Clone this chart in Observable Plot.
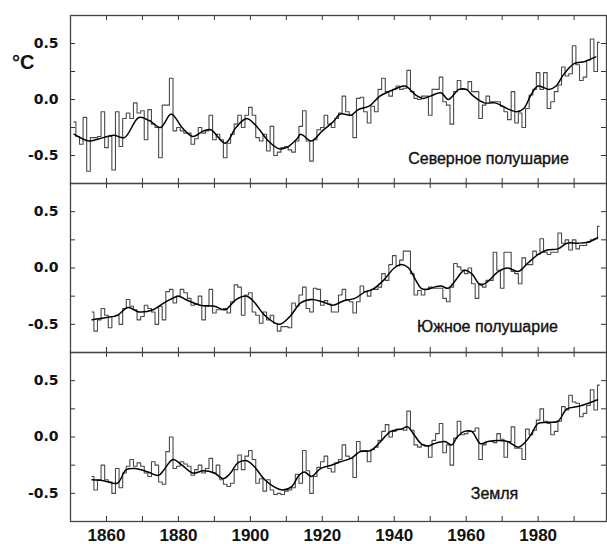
<!DOCTYPE html>
<html><head><meta charset="utf-8">
<script src="https://cdn.jsdelivr.net/npm/d3@7"></script>
<script src="https://cdn.jsdelivr.net/npm/@observablehq/plot@0.6"></script>
<style>
html,body{margin:0;padding:0;background:#fff;}
#chart{position:relative;width:607px;height:544px;overflow:hidden;}
#chart svg{position:absolute;left:0;}
#unit{position:absolute;left:12px;top:51px;line-height:1;font:bold 20px "Liberation Sans",Arial,sans-serif;color:#111;}
</style></head><body><div id="chart"><div id="unit">°C</div></div>
<script>
// ---- axis ticks / labels ----
const xTicks = [1860, 1870, 1880, 1890, 1900, 1910, 1920, 1930, 1940, 1950, 1960, 1970, 1980, 1990];
const xLabels = [1860, 1880, 1900, 1920, 1940, 1960, 1980];
const yTicks = [-0.5, -0.25, 0, 0.25, 0.5];
const yLabels = [-0.5, 0, 0.5];

// ---- panel names ----
const panelNames = ["Северное полушарие", "Южное полушарие", "Земля"];

// ---- Northern hemisphere annual anomalies, 1851–1997 ----
const nhStart = 1851;
const nhAnnual = [
  -0.20, -0.33, -0.40, -0.16, -0.64, -0.34, -0.34, -0.33, -0.11, -0.43,
  -0.33, -0.63, -0.11, -0.42, -0.17, -0.12, -0.17, -0.03, -0.12, -0.10,
  -0.36, -0.09, -0.22, -0.25, -0.52, -0.05, -0.05, 0.19, -0.28, -0.25,
  -0.28, -0.30, -0.30, -0.40, -0.35, -0.25, -0.30, -0.28, -0.14, -0.36,
  -0.31, -0.36, -0.52, -0.39, -0.31, -0.22, -0.14, -0.25, -0.14, -0.07,
  -0.14, -0.34, -0.37, -0.31, -0.46, -0.24, -0.50, -0.47, -0.43, -0.42,
  -0.45, -0.47, -0.37, -0.24, -0.10, -0.37, -0.55, -0.36, -0.27, -0.25,
  -0.14, -0.22, -0.25, -0.17, -0.12, 0.03, -0.11, -0.14, -0.34, 0.01,
  0.02, -0.11, -0.21, -0.06, -0.11, 0.09, 0.19, 0.07, 0.03, 0.09,
  0.12, 0.09, 0.10, 0.26, 0.07, 0.01, 0.00, 0.03, 0.03, -0.14,
  0.09, 0.09, 0.20, -0.02, -0.05, -0.22, 0.07, 0.17, 0.09, 0.09,
  0.16, 0.07, 0.07, -0.17, -0.05, 0.03, -0.02, -0.02, -0.02, -0.06,
  -0.11, -0.18, 0.07, -0.21, -0.12, -0.25, -0.08, 0.04, 0.09, 0.24,
  0.09, 0.24, -0.08, -0.02, 0.07, 0.13, 0.29, 0.21, 0.23, 0.48,
  0.31, 0.17, 0.20, 0.35, 0.54, 0.25, 0.51
];
const nhSmoothYears = [1851, 1855, 1858, 1862, 1865, 1869, 1872, 1875, 1878, 1881, 1884, 1887, 1889, 1893, 1896, 1899, 1902, 1905, 1908, 1910, 1913, 1914, 1917, 1920, 1923, 1925, 1928, 1930, 1933, 1936, 1940, 1943, 1946, 1948, 1950, 1953, 1955, 1958, 1960, 1962, 1965, 1968, 1972, 1974, 1976, 1978, 1980, 1983, 1985, 1987, 1990, 1993, 1996];
const nhSmooth = [-0.31, -0.37, -0.35, -0.32, -0.34, -0.16, -0.19, -0.25, -0.13, -0.25, -0.33, -0.28, -0.27, -0.39, -0.25, -0.17, -0.25, -0.37, -0.44, -0.43, -0.35, -0.31, -0.37, -0.28, -0.20, -0.13, -0.14, -0.09, -0.06, 0.03, 0.09, 0.12, 0.04, 0.01, 0.03, 0.06, 0.00, 0.09, 0.09, 0.03, -0.03, -0.03, -0.09, -0.11, -0.08, 0.04, 0.12, 0.09, 0.12, 0.22, 0.32, 0.34, 0.38];

// ---- Southern hemisphere annual anomalies, 1856–1997 ----
const shStart = 1856;
const shAnnual = [
  -0.39, -0.56, -0.46, -0.36, -0.42, -0.53, -0.43, -0.42, -0.50, -0.36,
  -0.28, -0.34, -0.37, -0.46, -0.43, -0.33, -0.36, -0.39, -0.50, -0.34,
  -0.46, -0.21, -0.19, -0.31, -0.25, -0.19, -0.22, -0.27, -0.33, -0.32,
  -0.25, -0.46, -0.34, -0.19, -0.40, -0.37, -0.37, -0.36, -0.40, -0.30,
  -0.15, -0.17, -0.42, -0.24, -0.22, -0.39, -0.42, -0.49, -0.39, -0.46,
  -0.42, -0.49, -0.56, -0.52, -0.52, -0.53, -0.31, -0.34,
  -0.24, -0.17, -0.36, -0.39, -0.18, -0.19, -0.33, -0.29, -0.32, -0.39,
  -0.39, -0.24, -0.19, -0.28, -0.30, -0.40, -0.30, -0.16, -0.21, -0.25,
  -0.19, -0.19, -0.17, -0.05, -0.11, 0.03, 0.11, 0.02, 0.07, 0.15,
  0.15, -0.05, -0.24, -0.20, -0.24, -0.19, -0.17, -0.18, -0.18, -0.18,
  -0.27, -0.30, -0.17,
  0.04, 0.01, -0.02, -0.05, 0.00, -0.14, -0.27, -0.14, -0.17, -0.11,
  -0.11, 0.14, -0.02, -0.18, 0.14, 0.14, -0.03, -0.05, -0.14, 0.09,
  0.03, 0.03, 0.15, 0.12, 0.26, 0.14, 0.12, 0.14, 0.14, 0.31,
  0.22, 0.25, 0.16, 0.25, 0.17, 0.20, 0.20, 0.23, 0.25, 0.26,
  0.37
];
const shSmoothYears = [1856, 1860, 1863, 1866, 1869, 1873, 1876, 1880, 1882, 1886, 1890, 1893, 1896, 1899, 1901, 1904, 1908, 1911, 1914, 1917, 1920, 1923, 1926, 1929, 1932, 1934, 1937, 1940, 1942, 1944, 1946, 1947.5, 1949, 1951, 1953, 1955, 1957, 1959.5, 1961.5, 1964, 1966, 1969, 1971.5, 1974.5, 1977, 1980, 1982.5, 1985.5, 1988, 1991, 1994, 1996.5];
const shSmooth = [-0.46, -0.44, -0.42, -0.35, -0.39, -0.37, -0.31, -0.25, -0.28, -0.33, -0.34, -0.37, -0.28, -0.25, -0.30, -0.42, -0.50, -0.43, -0.31, -0.28, -0.30, -0.33, -0.29, -0.27, -0.21, -0.19, -0.11, 0.00, 0.03, 0.00, -0.11, -0.18, -0.19, -0.17, -0.16, -0.18, -0.11, -0.02, -0.05, -0.15, -0.12, -0.03, 0.00, -0.03, 0.04, 0.12, 0.16, 0.17, 0.22, 0.22, 0.23, 0.27];

// ---- Global annual anomalies, 1856–1997 ----
const glStart = 1856;
const glAnnual = [
  -0.35, -0.47, -0.38, -0.25, -0.38, -0.40, -0.50, -0.28, -0.45, -0.32,
  -0.26, -0.20, -0.26, -0.23, -0.26, -0.32, -0.35, -0.22, -0.25, -0.40,
  -0.42, -0.13, 0.00, -0.28, -0.26, -0.22, -0.24, -0.26, -0.34, -0.29,
  -0.25, -0.32, -0.28, -0.19, -0.32, -0.25, -0.38, -0.42, -0.44, -0.41,
  -0.29, -0.16, -0.29, -0.17, -0.12, -0.20, -0.41, -0.37, -0.48, -0.38,
  -0.47, -0.51, -0.50, -0.51, -0.48, -0.47, -0.45, -0.33,
  -0.41, -0.12, -0.30, -0.50, -0.35, -0.27, -0.22, -0.17, -0.28, -0.31,
  -0.23, -0.20, -0.07, -0.17, -0.19, -0.36, -0.04, -0.12, -0.12, -0.22,
  -0.11, -0.09, -0.03, 0.05, 0.11, 0.00, 0.05, 0.07, 0.07, 0.06,
  0.23, 0.06, -0.07, -0.09, -0.07, -0.08, -0.18, -0.03, 0.03, 0.12,
  -0.14, -0.07, -0.25, -0.01, 0.14, 0.02, 0.03, 0.05, 0.05, 0.08,
  -0.20, -0.07, -0.04, -0.04, -0.05, 0.03, -0.02, -0.18, -0.04, 0.09,
  -0.10, -0.10, -0.20, 0.07, 0.02, 0.06, 0.15, 0.25, 0.14, 0.12,
  0.02, 0.05, 0.14, 0.27, 0.24, 0.37, 0.31, 0.30, 0.18, 0.21,
  0.28, 0.42, 0.24, 0.46
];
const glSmoothYears = [1856, 1859.5, 1863, 1865.5, 1868, 1871.5, 1874.5, 1876, 1878.5, 1881, 1884, 1887, 1890, 1892.5, 1894.5, 1896.5, 1899, 1901, 1904, 1906.5, 1909, 1911.5, 1913.5, 1915, 1917, 1919.5, 1922.5, 1925, 1928, 1930.5, 1933.5, 1936.5, 1939, 1942, 1943.7, 1945.5, 1947.5, 1949.5, 1951, 1954, 1956, 1957.5, 1959.5, 1961.5, 1964, 1966, 1969, 1971.5, 1974.5, 1976, 1978, 1980, 1982.5, 1985.5, 1988, 1991, 1994, 1996.5];
const glSmooth = [-0.38, -0.39, -0.41, -0.29, -0.28, -0.31, -0.34, -0.29, -0.20, -0.25, -0.32, -0.30, -0.32, -0.37, -0.32, -0.23, -0.21, -0.26, -0.38, -0.44, -0.47, -0.44, -0.34, -0.31, -0.35, -0.28, -0.25, -0.22, -0.19, -0.13, -0.12, -0.03, 0.05, 0.07, 0.09, 0.02, -0.06, -0.08, -0.06, -0.04, -0.07, 0.00, 0.05, 0.05, -0.06, -0.04, -0.03, -0.04, -0.09, -0.06, 0.02, 0.12, 0.13, 0.14, 0.25, 0.27, 0.30, 0.33];

// ---- layout ----
const W = 607, ML = 70, MR = 1;
const plotW = W - ML - MR;
const chart = document.getElementById("chart");

function panel({name, start, annual, smoothYears, smooth, top, innerH, mb, showX, dx, dy}) {
  const annualData = annual.map((v, i) => ({year: start + i, value: v}));
  const smoothData = smoothYears.map((y, i) => ({year: y, value: smooth[i]}));
  const mt = 5;
  const marks = [
    Plot.tickY(yTicks, {y: d => d, insetRight: plotW - 5, stroke: "#333"}),
    Plot.tickY(yTicks, {y: d => d, insetLeft: plotW - 5, stroke: "#333"}),
    Plot.tickX(xTicks, {x: d => d, insetTop: innerH - 5, stroke: "#333"}),
    Plot.tickX(xTicks, {x: d => d, insetBottom: innerH - 5, stroke: "#333"}),
    Plot.axisY({ticks: yLabels, tickSize: 0, tickPadding: 12, tickFormat: d => d.toFixed(1),
      fontSize: 14, fontWeight: "bold", fontFamily: "DejaVu Sans", fill: "#111", label: null}),
    Plot.lineY(annualData, {x: "year", y: "value", curve: "step", stroke: "#4a4a4a", strokeWidth: 1.1}),
    Plot.lineY(smoothData, {x: "year", y: "value", curve: "catmull-rom", stroke: "#000", strokeWidth: 1.5}),
    Plot.text([name], {frameAnchor: "bottom", dx, dy, text: d => d, fontSize: 16,
      fontFamily: "Liberation Sans", fill: "#111", stroke: "#111", strokeWidth: 0.35,
      textAnchor: "middle", lineAnchor: "middle"}),
    Plot.frame({stroke: "#444", strokeWidth: 1.3})
  ];
  if (showX) marks.push(Plot.axisX({ticks: xLabels, tickSize: 0, tickPadding: 7, tickFormat: d => String(d),
    fontSize: 17, fontWeight: "bold", fontFamily: "Liberation Sans", fill: "#111", label: null}));
  const svg = Plot.plot({
    width: W, height: mt + innerH + mb,
    marginLeft: ML, marginRight: MR, marginTop: mt, marginBottom: mb,
    x: {domain: [1850, 1999], axis: showX ? undefined : null},
    y: {domain: [-0.75, 0.75]},
    style: {background: "transparent", overflow: "visible"},
    marks
  });
  svg.style.top = (top - mt) + "px";
  chart.appendChild(svg);
}

panel({name: panelNames[0], start: nhStart, annual: nhAnnual, smoothYears: nhSmoothYears, smooth: nhSmooth,
  top: 15, innerH: 168, mb: 5, showX: false, dx: 150, dy: -25});
panel({name: panelNames[1], start: shStart, annual: shAnnual, smoothYears: shSmoothYears, smooth: shSmooth,
  top: 183, innerH: 169, mb: 5, showX: false, dx: 149, dy: -26});
panel({name: panelNames[2], start: glStart, annual: glAnnual, smoothYears: glSmoothYears, smooth: glSmooth,
  top: 352, innerH: 169, mb: 23, showX: true, dx: 156, dy: -28});
</script></body></html>
